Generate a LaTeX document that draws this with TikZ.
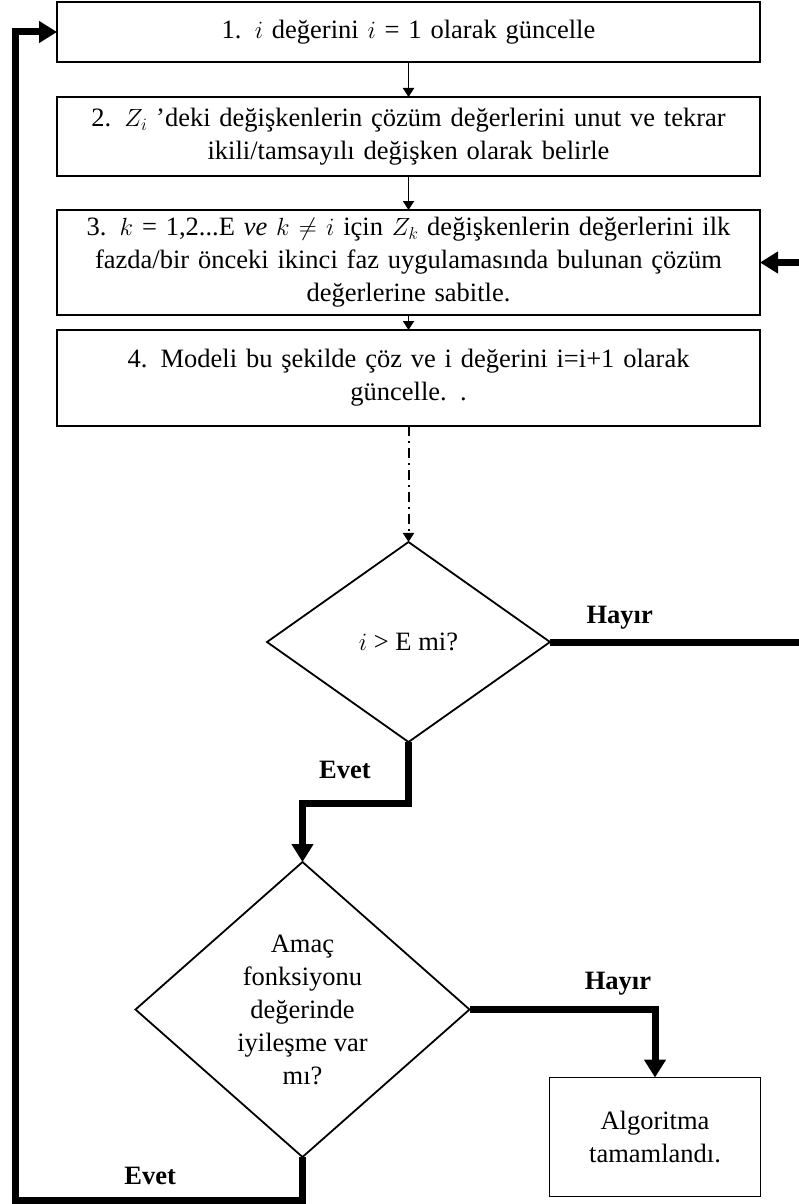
\documentclass[tikz,border=0pt]{standalone}
\usepackage{amsmath}
\usepackage{fontspec}
\setmainfont{Liberation Serif}
\usetikzlibrary{arrows.meta, positioning, shapes.geometric}

\begin{document}
\begin{tikzpicture}[
            x=1pt, y=-1pt,
            node distance=30pt, >=Triangle,
            every node/.style = {font=\fontsize{26.5pt}{33pt}\selectfont},
            process/.style = {rectangle, draw, line width=1.8pt, outer sep=0pt, minimum width=703pt, text width=680pt, align=center, inner sep=0pt},
            decision/.style = {diamond, draw, line width=1.8pt, outer sep=0pt, inner sep=0pt, align=center},
            endbox/.style = {rectangle, draw, line width=1.8pt, outer sep=0pt, minimum width=211pt, minimum height=119pt, align=center},
            arrow/.style = {draw, -{Triangle[length=9pt, width=11pt]}, line width=1.8pt},
            thickline/.style = {draw, line width=7pt},
            thickarrow/.style = {thickline, -{Triangle[length=18pt, width=21pt]}},
            answer/.style = {font=\fontsize{26.5pt}{33pt}\selectfont\bfseries}
        ]
            \useasboundingbox (0,0) rectangle (799,1204);

            \node [process, minimum height=60pt] (box1) at (408.5,32) {1. $i$ değerini $i$ = 1 olarak güncelle};
            \node [process, minimum height=79pt, below=35pt of box1] (box2) {2. $Z_i$ ’deki değişkenlerin çözüm değerlerini unut ve tekrar\\ikili/tamsayılı değişken olarak belirle};
            \node [process, minimum height=105pt, below=34pt of box2] (box3) {3. $k$ = 1,2...E \textit{ve} $k \neq i$ için $Z_k$ değişkenlerin değerlerini ilk\\fazda/bir önceki ikinci faz uygulamasında bulunan çözüm\\değerlerine sabitle.};
            \node [process, minimum height=96pt, below=15pt of box3] (box4) {4. Modeli bu şekilde çöz ve i değerini i=i+1 olarak\\güncelle. .};
            \node [decision, minimum width=283pt, minimum height=200pt, below=116pt of box4] (cond1) {$i$ > E mi?};
            \node [decision, minimum width=334pt, minimum height=295pt, below=120pt of cond1, xshift=-106pt] (cond2) {Amaç\\fonksiyonu\\değerinde\\iyileşme var\\mı?};
            \node [endbox] (finish) at (655,1137) {Algoritma\\tamamlandı.};

            \coordinate (loopcorner) at (15,1200);
            \coordinate (noout) at (799,0);
            \coordinate (noin) at (799,0);

            \draw [arrow] (box1) -- (box2);
            \draw [arrow] (box2) -- (box3);
            \draw [arrow] (box3) -- (box4);
            \draw [arrow, line width=2pt, dash pattern=on 10pt off 5pt on 2pt off 5pt] (box4) -- (cond1);
            \draw [thickline] (cond1.east) -- node[pos=0.28, above=6pt, answer] {Hayır} (cond1.east -| noout);
            \draw [thickarrow] (box3.east -| noin) -- (box3.east);
            \draw [thickarrow] (cond1.south) -- node[pos=0.45, left=31pt, answer] {Evet} ++(0,61) -| (cond2.north);
            \draw [thickarrow] (cond2.east) -| node[pos=0.4, above=7pt, answer] {Hayır} (finish.north);
            \draw [thickarrow] (cond2.south) |- node[pos=0.765, above=8pt, answer] {Evet} (loopcorner) |- (box1.west);
        \end{tikzpicture}
\end{document}
